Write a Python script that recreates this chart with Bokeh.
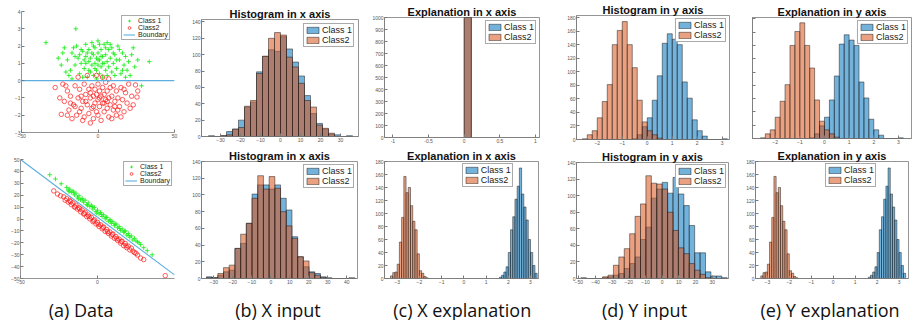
from bokeh.plotting import figure
from bokeh.layouts import row, column
from bokeh.models import Range1d, Legend, LegendItem, FixedTicker, NumeralTickFormatter
from bokeh.core.properties import value
from bokeh.embed import file_html
from bokeh.resources import INLINE

# ---------------- data ----------------
# (a) top: 2-D data, classes separated by y = 0
a_top_c1_x = [-34, -14.5, 33.5, 28.5, -22, -20, -18, -17, -15, -14, -13, -12, -11, -10, -9, -8, -8, -7, -6, -6,
              -5, -5, -4, -4, -3, -3, -2, -2, -1, -1, 0, 0, 0, 1, 1, 2, 2, 3, 3, 4, 4, 5, 5, 6, 6, 7, 7, 8, 9, 9,
              10, 11, 12, 13, 14, 15, 16, 17, 18, 19, 20, 22, 24, -24, -19, -16, -10, -12, -9, -7, -3, 1, 3, 8,
              11, 14, -21, -26, 26, 21, -1, 6, 16, -15, 10, -6, 12, 2, -2, -8, 5, -4, 0, -11, 18, -23, 23, -17]
a_top_c1_y = [2.2, 3.0, 1.1, -0.3, 1.9, 1.2, 0.6, 1.6, 0.9, 2.0, 1.3, 0.4, 1.0, 1.7, 0.7, 1.4, 2.1, 0.2, 1.1, 1.8,
              0.5, 1.3, 0.9, 2.2, 1.5, 0.3, 1.0, 1.9, 0.6, 1.3, 2.3, 0.9, 1.6, 0.4, 1.2, 1.8, 0.8, 1.4, 0.2, 1.0,
              2.1, 0.6, 1.5, 1.1, 0.3, 1.8, 0.8, 1.3, 0.5, 1.9, 1.0, 1.5, 0.7, 2.0, 1.2, 0.4, 1.6, 0.9, 1.4, 0.6,
              1.1, 1.5, 0.8, 0.9, 0.3, 1.9, 0.2, 1.5, 1.2, 1.6, 2.0, 2.1, 1.0, 2.1, 0.3, 1.8, 0.5, 1.3, 1.2, 0.3,
              0.1, 2.2, 0.6, 1.4, 1.6, 0.6, 1.2, 1.4, 0.7, 1.0, 1.9, 1.6, 1.2, 1.8, 0.2, 1.6, 1.9, 0.1]
a_top_c2_x = [-5, -24, -28, 25.5, 24.5, -22, -20, -19, -18, -16, -15, -14, -13, -12, -11, -10, -9, -9, -8, -7,
              -6, -6, -5, -4, -4, -3, -3, -2, -2, -1, -1, 0, 0, 0, 1, 1, 2, 2, 3, 3, 4, 4, 5, 5, 6, 6, 7, 7, 8, 8,
              9, 10, 10, 11, 12, 12, 13, 14, 15, 16, 17, 18, 19, 20, 21, 22, -21, -17, -12, -7, -1, 3, -25, -23,
              23, 26, -10, 9, 15, -15, -8, 4, -3, 1, 6, 11, -5, -11, 17, -18, 13, -13, 7, -20]
a_top_c2_y = [-2.45, -1.95, -0.4, -0.95, -0.25, -1.2, -0.6, -1.7, -0.9, -1.4, -0.3, -2.0, -1.0, -0.5, -1.6, -1.2,
              -0.2, -2.1, -0.8, -1.4, -0.5, -1.9, -1.0, -0.3, -1.6, -0.9, -2.2, -1.3, -0.5, -1.8, -0.8, -1.1, -0.2,
              -2.0, -1.5, -0.6, -0.9, -2.3, -1.3, -0.4, -1.8, -0.8, -1.1, -0.1, -1.6, -0.6, -1.0, -2.1, -0.4, -1.4,
              -0.9, -1.7, -0.3, -1.2, -0.6, -2.0, -1.0, -1.5, -0.4, -1.1, -1.8, -0.7, -1.3, -0.2, -1.6, -0.9, -0.3,
              -2.2, -1.8, 0.3, 0.3, 0.2, -1.0, -0.2, -1.4, -0.6, -2.3, -2.2, -2.1, -1.5, -1.2, -1.3, -1.5, -1.0,
              -1.2, -1.5, -0.7, -0.9, -0.5, -1.3, -1.7, 0.2, 0.1, -2.0]
a_top_bnd_x = [-50, 50]
a_top_bnd_y = [0, 0]

# (a) bottom: 2-D data, diagonal boundary
a_bot_c1_x = [-31, -27.3, -23.6, -20, -19, -18, -17, -16, -15, -14, -13, -12, -11, -10, -9, -8, -7, -6, -5, -4,
              -3, -2, -1, 0, 1, 2, 3, 4, 5, 6, 7, 8, 9, 10, 11, 12, 13, 14, 15, 16, 17, 18, 19, 20, 21, 22, 23,
              24, 26, 28, 30, 32.3, 35.5, -18.5, -15.5, -12.5, -9.5, -6.5, -3.5, -0.5, 2.5, 5.5, 8.5, 11.5, 14.5,
              17.5, 20.5, 25, 27]
a_bot_c1_y = [37.2, 33.6, 29.6, 26.5, 24.2, 25.1, 22.4, 23.5, 20.3, 21.7, 18.4, 19.6, 16.2, 17.3, 14.1, 15.8,
              12.2, 13.6, 10.4, 11.5, 8.3, 9.7, 6.2, 7.4, 4.3, 5.6, 2.1, 3.5, 0.2, 1.4, -1.8, -0.6, -3.7, -2.3,
              -5.6, -4.1, -7.4, -6.2, -9.6, -8.3, -11.2, -9.9, -13.5, -12.1, -15.3, -14.2, -17.6, -16.3, -19.2,
              -21.5, -24.1, -26.6, -30.1, 23.0, 22.5, 17.0, 16.0, 11.5, 10.5, 5.0, 4.0, 1.5, -1.5, -4.5, -8.0,
              -10.5, -14.0, -18.5, -20.0]
a_bot_c2_x = [-28.4, -26, -24, -22, -21, -20, -19, -18, -17, -16, -15, -14, -13, -12, -11, -10, -9, -8, -7, -6,
              -5, -4, -3, -2, -1, 0, 1, 2, 3, 4, 5, 6, 7, 8, 9, 10, 11, 12, 13, 14, 15, 16, 17, 18, 19, 20, 21,
              22, 24, 26, 28, 30, 44, -17.5, -14.5, -11.5, -8.5, -5.5, -2.5, 0.5, 3.5, 6.5, 9.5, 12.5, 15.5,
              18.5, 23, 25]
a_bot_c2_y = [23.6, 21.0, 19.5, 18.6, 15.8, 17.0, 14.2, 15.5, 12.1, 13.4, 10.2, 11.6, 8.3, 9.5, 6.1, 7.6, 4.2,
              5.7, 2.0, 3.3, 0.1, 1.5, -2.2, -0.6, -4.1, -2.8, -6.3, -4.9, -8.2, -6.7, -10.4, -8.8, -12.1, -10.9,
              -14.3, -12.6, -16.2, -14.8, -18.0, -16.9, -20.3, -18.7, -22.4, -20.6, -24.1, -22.8, -26.0, -24.5,
              -28.2, -30.3, -32.8, -34.1, -47.6, 14.5, 10.0, 8.5, 4.5, 2.0, -1.5, -4.5, -7.0, -10.5, -13.0,
              -16.5, -19.0, -22.5, -27.0, -28.8]
a_bot_bnd_x = [-50, 50]
a_bot_bnd_y = [50, -47]

# (b) top: histogram in x axis (bin width 3)
b_top_centers = [-34.5, -31.5, -28.5, -25.5, -22.5, -19.5, -16.5, -13.5, -10.5, -7.5, -4.5, -1.5,
                 1.5, 4.5, 7.5, 10.5, 13.5, 16.5, 19.5, 22.5, 25.5, 28.5, 31.5, 34.5]
b_top_class1 = [1, 0, 1, 6, 9, 20, 36, 42, 79, 98, 106, 104, 122, 107, 91, 74, 50, 28, 16, 9, 3, 2, 0, 1]
b_top_class2 = [0, 0, 1, 2, 9, 11, 37, 44, 77, 98, 120, 127, 124, 97, 85, 65, 44, 36, 14, 10, 4, 0, 0, 0]
b_top_width = 3

# (b) bottom: histogram in x axis
b_bot_centers = [-32.4, -29.4, -26.4, -23.4, -20.4, -17.4, -14.4, -11.4, -8.4, -5.4, -2.4, 0.6, 3.6,
                 6.6, 9.6, 12.6, 15.6, 18.6, 21.6, 24.6, 27.6, 30.6, 33.6, 36.6, 39.6, 42.6]
b_bot_class1 = [2, 1, 4, 8, 10, 36, 42, 66, 101, 112, 112, 107, 112, 96, 82, 50, 26, 14, 8, 6, 2, 1, 0, 0, 0, 0]
b_bot_class2 = [1, 1, 6, 13, 16, 36, 53, 66, 96, 123, 107, 122, 108, 80, 63, 48, 26, 21, 7, 4, 1, 0, 0, 0, 0, 1]
b_bot_width = 3

# (c) top: explanation in x axis
c_top_centers = [0.05]
c_top_class1 = [1000]
c_top_class2 = [1000]
c_top_width = 0.1

# (c)/(e) bottom: explanation histograms (bin width 0.1)
expl_c1_centers = [1.65, 1.75, 1.85, 1.95, 2.05, 2.15, 2.25, 2.35, 2.45, 2.55, 2.65, 2.75, 2.85, 2.95, 3.05, 3.15, 3.25]
expl_c1_counts = [2, 5, 10, 18, 40, 75, 95, 122, 142, 170, 130, 110, 90, 60, 40, 20, 8]
expl_c2_centers = [-3.25, -3.15, -3.05, -2.95, -2.85, -2.75, -2.65, -2.55, -2.45, -2.35, -2.25, -2.15, -2.05, -1.95, -1.85, -1.75, -1.65]
expl_c2_counts = [4, 9, 10, 22, 56, 94, 157, 132, 140, 112, 88, 75, 38, 12, 8, 3, 1]
expl_width = 0.1

# (d)/(e) top: histogram in y axis (bin width 0.2)
y_top_centers = [-2.5, -2.3, -2.1, -1.9, -1.7, -1.5, -1.3, -1.1, -0.9, -0.7, -0.5, -0.3, -0.1, 0.1, 0.3,
                 0.5, 0.7, 0.9, 1.1, 1.3, 1.5, 1.7, 1.9, 2.1, 2.3, 2.5, 2.7, 2.9, 3.1]
y_top_class1 = [0, 0, 0, 0, 0, 0, 0, 0, 0, 0, 1, 7, 19, 32, 58, 94, 142, 156, 148, 140, 85, 61, 29, 13, 5, 0, 0, 0, 1]
y_top_class2 = [1, 7, 13, 32, 56, 81, 140, 161, 174, 140, 106, 58, 26, 13, 7, 2, 0, 0, 0, 0, 0, 0, 0, 0, 0, 0, 0, 0, 0]
y_top_width = 0.2

# (d) bottom: histogram in y axis (bin width 3.25)
d_bot_centers = [-47.125, -43.875, -40.625, -37.375, -34.125, -30.875, -27.625, -24.375, -21.125, -17.875,
                 -14.625, -11.375, -8.125, -4.875, -1.625, 1.625, 4.875, 8.125, 11.375, 14.625, 17.875,
                 21.125, 24.375, 27.625, 30.875, 34.125, 37.375]
d_bot_class1 = [0, 0, 0, 0, 1, 2, 4, 6, 12, 18, 26, 47, 62, 97, 108, 116, 103, 122, 102, 88, 64, 31, 31, 8, 3, 3, 1]
d_bot_class2 = [1, 0, 0, 0, 2, 4, 16, 26, 36, 54, 75, 90, 124, 115, 114, 108, 80, 58, 37, 30, 18, 10, 5, 1, 0, 0, 0]
d_bot_width = 3.25

captions = ["(a) Data", "(b) X input", "(c) X explanation", "(d) Y input", "(e) Y explanation"]

# ---------------- style ----------------
BLUE = "#0072BD"
ORANGE = "#D95319"
GREEN = "#22EE22"
RED = "#FF1A1A"
BND = "#5BAEE0"
AX = "#7a7a7a"
FONT = "Liberation Sans"


def make_fig(w, h, bl, br, bt, bb, xr, yr, xticks, yticks, box=True, ylabels=True, xfmt=None, title=None):
    p = figure(width=w, height=h, x_range=Range1d(*xr), y_range=Range1d(*yr),
               output_backend="svg", toolbar_location=None, frame_align=False,
               min_border_left=bl, min_border_right=br, min_border_top=bt, min_border_bottom=bb)
    p.xgrid.visible = False
    p.ygrid.visible = False
    p.background_fill_color = "white"
    p.border_fill_color = "white"
    p.outline_line_color = AX if box else None
    p.outline_line_width = 0.8
    for ax, ticks in ((p.xaxis[0], xticks), (p.yaxis[0], yticks)):
        ax.ticker = FixedTicker(ticks=ticks)
        ax.major_tick_in = 3
        ax.major_tick_out = 0
        ax.minor_tick_line_color = None
        ax.axis_line_color = AX
        ax.axis_line_width = 0.8
        ax.major_tick_line_color = AX
        ax.major_label_text_font_size = "5px"
        ax.major_label_text_color = "#555555"
        ax.major_label_text_font = FONT
        ax.major_label_standoff = 1
    if xfmt is not None:
        p.xaxis[0].formatter = NumeralTickFormatter(format=xfmt)
    if not ylabels:
        p.yaxis[0].major_label_text_alpha = 0
    if title is not None:
        p.title.text = title
        p.title.align = "center"
        p.title.text_font = FONT
        p.title.text_font_style = "bold"
        p.title.text_font_size = "11px"
        p.title.text_color = "#111111"
        p.title.standoff = 0
    return p


def hist_legend(p, r1, r2, location, margin=2):
    leg = Legend(items=[LegendItem(label="Class 1", renderers=[r1]),
                        LegendItem(label="Class2", renderers=[r2])],
                 location=location, margin=margin,
                 label_text_font=FONT, label_text_font_size="9px", label_text_color="#222222",
                 glyph_width=15, glyph_height=8, label_height=8, label_standoff=2,
                 spacing=0, padding=1, border_line_color="#555555", border_line_width=0.7,
                 background_fill_color="white", background_fill_alpha=1)
    p.add_layout(leg)


def hist(p, c1x, c1, c2x, c2, width):
    r1 = p.vbar(x=c1x, width=width, top=c1, bottom=0, fill_color=BLUE, fill_alpha=0.55,
                line_color="#1a1a1a", line_alpha=0.7, line_width=0.7)
    r2 = p.vbar(x=c2x, width=width, top=c2, bottom=0, fill_color=ORANGE, fill_alpha=0.55,
                line_color="#1a1a1a", line_alpha=0.7, line_width=0.7)
    return r1, r2


def scatter_panel(p, x1, y1, x2, y2, bx, by, margin):
    r1 = p.scatter(x1, y1, marker="cross", size=4.5, line_color=GREEN, line_width=0.9)
    r2 = p.scatter(x2, y2, marker="circle", size=4.5, fill_color=None, line_color=RED, line_width=0.7)
    r3 = p.line(bx, by, line_color=BND, line_width=1.1)
    leg = Legend(items=[LegendItem(label="Class 1", renderers=[r1]),
                        LegendItem(label="Class2", renderers=[r2]),
                        LegendItem(label="Boundary", renderers=[r3])],
                 location="top_right", margin=margin,
                 label_text_font=FONT, label_text_font_size="7px", label_text_color="#222222",
                 glyph_width=12, glyph_height=7, label_height=7, label_standoff=3,
                 spacing=0, padding=1, border_line_color="#555555", border_line_width=0.7,
                 background_fill_color="white", background_fill_alpha=1)
    p.add_layout(leg)


TOP_H = 147   # page y 0 .. 147
BOT_H = 139   # page y 147 .. 286
CAP_H = 34    # page y 286 .. 320

# ---------------- top row ----------------
fa1 = make_fig(186, TOP_H, 21, 12, 11, 15, (-50, 50), (-3, 4), [-50, 0, 50], list(range(-3, 5)), box=False)
scatter_panel(fa1, a_top_c1_x, a_top_c1_y, a_top_c2_x, a_top_c2_y, a_top_bnd_x, a_top_bnd_y, 4)

fb1 = make_fig(181, TOP_H, 15, 9, 19, 11, (-39.5, 39), (0, 143), list(range(-30, 31, 10)),
               list(range(0, 141, 20)), title="Histogram in x axis")
r1, r2 = hist(fb1, b_top_centers, b_top_class1, b_top_centers, b_top_class2, b_top_width)
hist_legend(fb1, r1, r2, "top_right", 4)

fc1 = make_fig(178, TOP_H, 17, 6, 17, 10, (-1.118, 1.056), (0, 1000), [-1, -0.5, 0, 0.5, 1],
               list(range(0, 1001, 100)), xfmt="0.[0]", title="Explanation in x axis")
r1, r2 = hist(fc1, c_top_centers, c_top_class1, c_top_centers, c_top_class2, c_top_width)
hist_legend(fc1, r1, r2, "top_right", 3)

fd1 = make_fig(193, TOP_H, 31, 9, 15, 8, (-2.83, 3.29), (0, 183), list(range(-2, 4)),
               list(range(0, 181, 20)), title="Histogram in y axis")
r1, r2 = hist(fd1, y_top_centers, y_top_class1, y_top_centers, y_top_class2, y_top_width)
hist_legend(fd1, r1, r2, "top_right", 3)

fe1 = make_fig(176, TOP_H, 14, 3, 17, 9, (-2.92, 3.53), (0, 182), list(range(-2, 4)),
               list(range(0, 181, 20)), ylabels=False, title="Explanation in y axis")
r1, r2 = hist(fe1, y_top_centers, y_top_class1, y_top_centers, y_top_class2, y_top_width)
hist_legend(fe1, r1, r2, "top_right", 3)

# ---------------- bottom row ----------------
fa2 = make_fig(186, BOT_H, 20, 12, 12, 8, (-50, 50), (-50, 50), [-50, 0], list(range(-50, 51, 10)), box=False)
scatter_panel(fa2, a_bot_c1_x, a_bot_c1_y, a_bot_c2_x, a_bot_c2_y, a_bot_bnd_x, a_bot_bnd_y, 2)

fb2 = make_fig(181, BOT_H, 15, 10, 14, 7, (-36.5, 45.6), (0, 140), list(range(-30, 41, 10)),
               list(range(0, 141, 20)), title="Histogram in x axis")
r1, r2 = hist(fb2, b_bot_centers, b_bot_class1, b_bot_centers, b_bot_class2, b_bot_width)
hist_legend(fb2, r1, r2, "top_right", 3)

fc2 = make_fig(178, BOT_H, 17, 7, 14, 7, (-3.57, 3.36), (0, 180), list(range(-3, 4)),
               list(range(0, 181, 20)), title="Explanation in x axis")
r1, r2 = hist(fc2, expl_c1_centers, expl_c1_counts, expl_c2_centers, expl_c2_counts, expl_width)
hist_legend(fc2, r1, r2, (77.7, 91))

fd2 = make_fig(193, BOT_H, 31, 10, 15, 7, (-51.4, 39.8), (0, 140), list(range(-50, 41, 10)),
               list(range(0, 141, 20)), title="Histogram in y axis")
r1, r2 = hist(fd2, d_bot_centers, d_bot_class1, d_bot_centers, d_bot_class2, d_bot_width)
hist_legend(fd2, r1, r2, "top_right", 2)

fe2 = make_fig(176, BOT_H, 17, 6, 14, 7, (-3.54, 3.43), (0, 180), list(range(-3, 4)),
               list(range(0, 181, 20)), title="Explanation in y axis")
r1, r2 = hist(fe2, expl_c1_centers, expl_c1_counts, expl_c2_centers, expl_c2_counts, expl_width)
hist_legend(fe2, r1, r2, (70, 91))

# ---------------- caption strip ----------------
cap = figure(width=914, height=CAP_H, x_range=Range1d(0, 914), y_range=Range1d(0, CAP_H),
             output_backend="svg", toolbar_location=None, x_axis_type=None, y_axis_type=None,
             frame_align=False,
             min_border_left=0, min_border_right=0, min_border_top=0, min_border_bottom=0)
cap.grid.visible = False
cap.outline_line_color = None
cap.background_fill_color = "white"
cap.border_fill_color = "white"
cap_x = [80.6, 277.5, 461.7, 644, 829.5]
cap_y = [11, 11, 11, 11, 11]
cap.text(x=cap_x, y=cap_y, text=captions, text_font=value("Open Sans"), text_font_size="18px",
         text_color="#111111", text_align="center", text_baseline="alphabetic")

layout = column(row(fa1, fb1, fc1, fd1, fe1, spacing=0),
                row(fa2, fb2, fc2, fd2, fe2, spacing=0),
                cap, spacing=0)

open("out.html", "w").write(file_html(layout, INLINE, "Explanation histograms"))
